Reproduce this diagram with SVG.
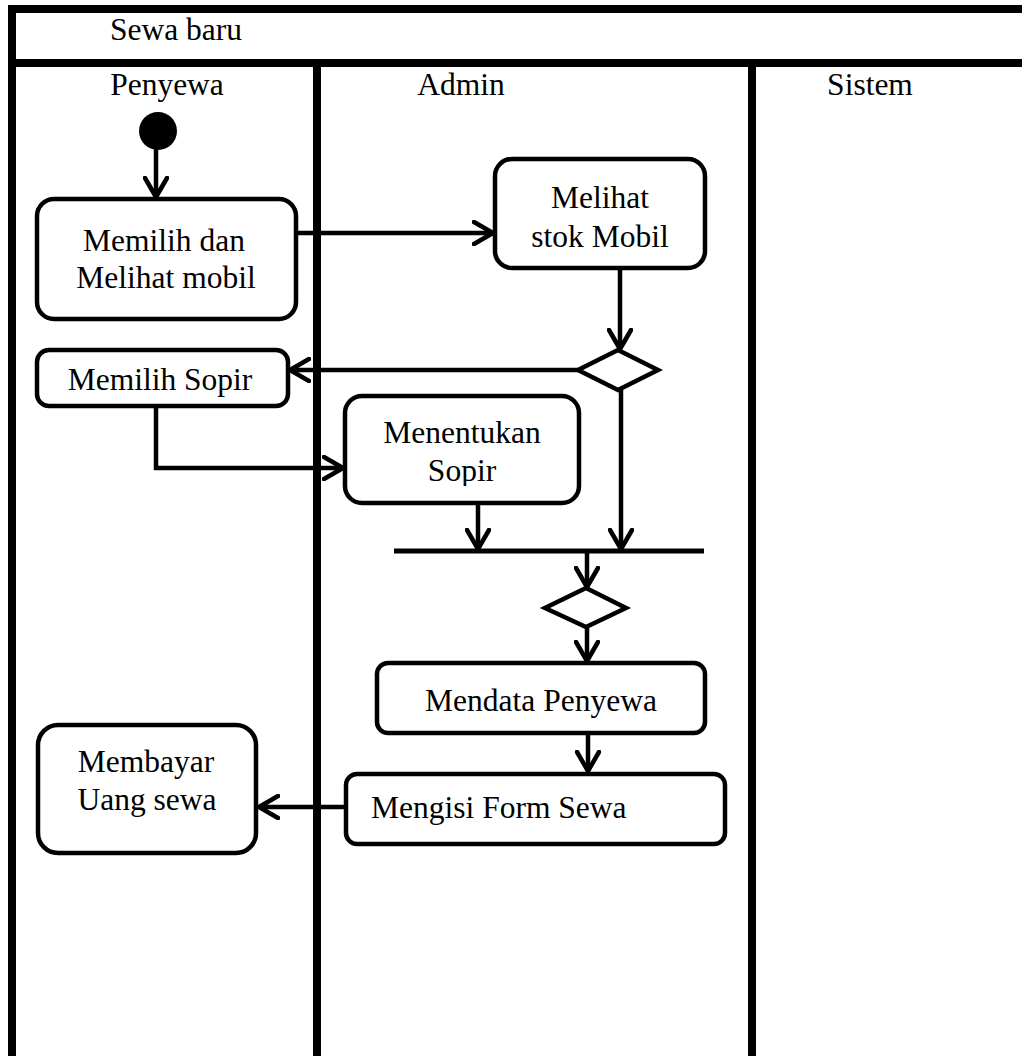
<svg xmlns="http://www.w3.org/2000/svg" width="1022" height="1056" viewBox="0 0 1022 1056">
<style>
.lane{stroke:#000;stroke-width:8;fill:none}
.box{fill:#fff;stroke:#000;stroke-width:4.5}
.edge{stroke:#000;stroke-width:4.5;fill:none}
.t{font-family:"Liberation Serif","Times New Roman",serif;font-size:31.5px;fill:#000}
.c{text-anchor:middle}
</style>
<defs>
<marker id="arr" viewBox="0 0 24 26" refX="21" refY="13" markerWidth="24" markerHeight="26" markerUnits="userSpaceOnUse" orient="auto">
<path d="M2,2 L21,13 L2,24" fill="none" stroke="#000" stroke-width="4.5" stroke-linecap="round" stroke-linejoin="round"/>
</marker>
<clipPath id="clipSopir"><rect x="345" y="395" width="234" height="91"/></clipPath>
</defs>
<rect width="1022" height="1056" fill="#fff"/>
<g id="swimlanes">
<line class="lane" x1="8" y1="9" x2="1022" y2="9"/>
<line class="lane" x1="12" y1="5" x2="12" y2="1056"/>
<line class="lane" x1="8" y1="63" x2="1022" y2="63"/>
<line class="lane" x1="317" y1="63" x2="317" y2="1056"/>
<line class="lane" x1="752" y1="63" x2="752" y2="1056"/>
<text class="t c" x="176" y="40">Sewa baru</text>
<text class="t c" x="167" y="95">Penyewa</text>
<text class="t c" x="461" y="95">Admin</text>
<text class="t c" x="870" y="95">Sistem</text>
</g>
<g id="connectors">
<line class="edge" x1="156" y1="148" x2="156" y2="197" marker-end="url(#arr)"/>
<line class="edge" x1="296" y1="233" x2="493" y2="233" marker-end="url(#arr)"/>
<line class="edge" x1="620" y1="268" x2="620" y2="349" marker-end="url(#arr)"/>
<line class="edge" x1="578" y1="370" x2="290" y2="370" marker-end="url(#arr)"/>
<polyline class="edge" points="156,406 156,468 343,468" marker-end="url(#arr)"/>
<line class="edge" x1="478" y1="503" x2="478" y2="549" marker-end="url(#arr)"/>
<line class="edge" x1="621" y1="390" x2="621" y2="549" marker-end="url(#arr)"/>
<line class="edge" x1="587" y1="551" x2="587" y2="587" marker-end="url(#arr)"/>
<line class="edge" x1="587" y1="627" x2="587" y2="661" marker-end="url(#arr)"/>
<line class="edge" x1="588" y1="733" x2="588" y2="771" marker-end="url(#arr)"/>
<line class="edge" x1="345" y1="807" x2="259" y2="807" marker-end="url(#arr)"/>
</g>
<g id="start"><circle cx="158" cy="131" r="19" fill="#000"/></g>
<g id="memilih-melihat">
<rect class="box" x="37" y="199" width="259" height="120" rx="17"/>
<text class="t c" x="164" y="251">Memilih dan</text>
<text class="t c" x="166" y="288">Melihat mobil</text>
</g>
<g id="melihat-stok">
<rect class="box" x="495" y="159" width="210" height="109" rx="17"/>
<text class="t c" x="600" y="208">Melihat</text>
<text class="t c" x="600" y="247">stok Mobil</text>
</g>
<g id="decision1"><polygon class="box" points="618,350 658,370 618,390 578,370"/></g>
<g id="memilih-sopir">
<rect class="box" x="37" y="350" width="251" height="56" rx="12"/>
<text class="t c" x="160" y="390">Memilih Sopir</text>
</g>
<g id="menentukan-sopir">
<rect class="box" x="345" y="396" width="234" height="107" rx="17"/>
<text class="t c" x="462" y="443">Menentukan</text>
<text class="t c" x="462" y="481" clip-path="url(#clipSopir)">Sopir</text>
</g>
<g id="join"><line x1="394" y1="551" x2="704" y2="551" stroke="#000" stroke-width="5"/></g>
<g id="decision2"><polygon class="box" points="586,588 626,608 586,627 545,608"/></g>
<g id="mendata-penyewa">
<rect class="box" x="377" y="663" width="328" height="70" rx="11"/>
<text class="t c" x="541" y="711">Mendata Penyewa</text>
</g>
<g id="mengisi-form">
<rect class="box" x="346" y="774" width="379" height="70" rx="11"/>
<text class="t" x="371" y="818">Mengisi Form Sewa</text>
</g>
<g id="membayar">
<rect class="box" x="38" y="725" width="218" height="128" rx="20"/>
<text class="t c" x="146" y="772">Membayar</text>
<text class="t c" x="147" y="810">Uang sewa</text>
</g>
</svg>
